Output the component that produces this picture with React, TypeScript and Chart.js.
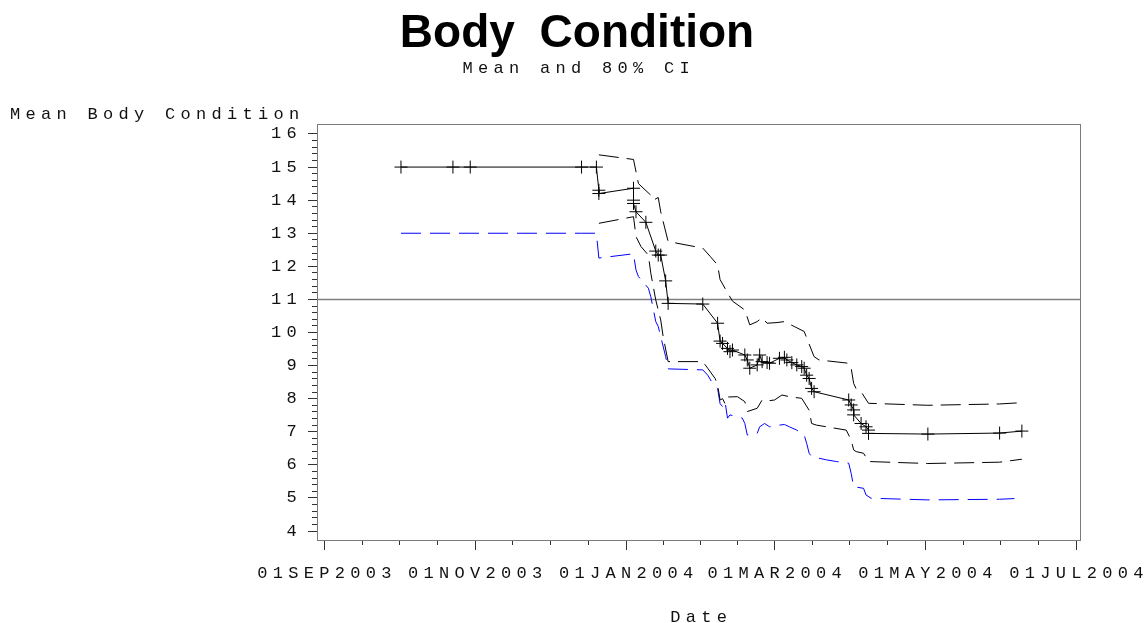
import React, { useEffect, useRef } from 'react';
import { Chart, registerables } from 'chart.js';

Chart.register(...registerables);

// ---------- data ----------
const meanDates = [
  '2003-10-02', '2003-10-23', '2003-10-30', '2003-12-14', '2003-12-20',
  '2003-12-21', '2003-12-21', '2004-01-04', '2004-01-04', '2004-01-04',
  '2004-01-05', '2004-01-09', '2004-01-13', '2004-01-14', '2004-01-15',
  '2004-01-17', '2004-01-18', '2004-02-01', '2004-02-07', '2004-02-08',
  '2004-02-09', '2004-02-11', '2004-02-12', '2004-02-13', '2004-02-18',
  '2004-02-19', '2004-02-20', '2004-02-23', '2004-02-24', '2004-02-25',
  '2004-02-27', '2004-02-28', '2004-03-03', '2004-03-05', '2004-03-06',
  '2004-03-08', '2004-03-10', '2004-03-12', '2004-03-13', '2004-03-14',
  '2004-03-15', '2004-03-16', '2004-03-17', '2004-03-31', '2004-04-01',
  '2004-04-02', '2004-04-02', '2004-04-05', '2004-04-07', '2004-04-08',
  '2004-04-08', '2004-05-02', '2004-05-31', '2004-06-09',
];
const meanValues = [
  15, 15, 15, 15, 15,
  14.3, 14.2, 14.36, 14.0, 13.9,
  13.65, 13.33, 12.46, 12.34, 12.34,
  11.56, 10.88, 10.86, 10.28, 9.74,
  9.67, 9.52, 9.42, 9.47, 9.32,
  9.17, 8.92, 9.02, 9.32, 9.12,
  9.09, 9.07, 9.22, 9.25, 9.17,
  9.09, 9.02, 8.97, 8.92, 8.71,
  8.61, 8.31, 8.21, 7.96, 7.81,
  7.66, 7.51, 7.25, 7.15, 7.05,
  6.95, 6.93, 6.96, 7.02,
];

const upperDates = [
  '2003-12-21', '2004-01-04', '2004-01-06', '2004-01-11', '2004-01-12',
  '2004-01-14', '2004-01-15', '2004-01-18', '2004-02-01', '2004-02-04',
  '2004-02-07', '2004-02-08', '2004-02-11', '2004-02-13', '2004-02-18',
  '2004-02-20', '2004-02-23', '2004-02-25', '2004-02-27', '2004-03-02',
  '2004-03-05', '2004-03-09', '2004-03-13', '2004-03-15', '2004-03-17',
  '2004-03-19', '2004-03-31', '2004-04-01', '2004-04-02', '2004-04-03',
  '2004-04-05', '2004-04-08', '2004-05-02', '2004-05-31', '2004-06-09',
];
const upperValues = [
  15.37, 15.23, 14.5, 14.15, 14.0,
  14.08, 13.65, 12.75, 12.55, 12.3,
  12.04, 11.6, 11.2, 10.95, 10.68,
  10.23, 10.33, 10.45, 10.28, 10.3,
  10.33, 10.18, 10.03, 9.65, 9.27,
  9.17, 9.07, 8.92, 8.46, 8.3,
  8.21, 7.86, 7.8, 7.84, 7.88,
];

const lowerDates = [
  '2003-12-21', '2004-01-04', '2004-01-05', '2004-01-07', '2004-01-10',
  '2004-01-11', '2004-01-13', '2004-01-15', '2004-01-16', '2004-01-18',
  '2004-02-01', '2004-02-03', '2004-02-06', '2004-02-07', '2004-02-08',
  '2004-02-09', '2004-02-10', '2004-02-11', '2004-02-15', '2004-02-18',
  '2004-02-19', '2004-02-23', '2004-02-25', '2004-02-27', '2004-03-01',
  '2004-03-04', '2004-03-07', '2004-03-12', '2004-03-15', '2004-03-16',
  '2004-03-18', '2004-03-30', '2004-04-01', '2004-04-02', '2004-04-03',
  '2004-04-06', '2004-04-08', '2004-05-02', '2004-05-31', '2004-06-09',
];
const lowerValues = [
  13.3, 13.5, 12.9, 12.6, 12.34,
  11.79, 10.98, 10.38, 9.87, 9.12,
  9.12, 8.92, 8.61, 8.41, 7.96,
  8.0, 7.85, 8.05, 8.06, 7.91,
  7.61, 7.71, 7.96, 7.93, 7.96,
  8.11, 8.06, 8.01, 7.65, 7.25,
  7.2, 7.05, 6.75, 6.45, 6.4,
  6.35, 6.1, 6.04, 6.08, 6.17,
];

const blueDates = [
  '2003-10-02', '2003-10-23', '2003-10-30', '2003-12-14', '2003-12-20',
  '2003-12-21', '2004-01-04', '2004-01-05', '2004-01-06', '2004-01-10',
  '2004-01-11', '2004-01-13', '2004-01-14', '2004-01-17', '2004-01-18',
  '2004-02-01', '2004-02-03', '2004-02-05', '2004-02-07', '2004-02-08',
  '2004-02-09', '2004-02-10', '2004-02-11', '2004-02-12', '2004-02-17',
  '2004-02-18', '2004-02-19', '2004-02-23', '2004-02-24', '2004-02-26',
  '2004-02-28', '2004-03-03', '2004-03-05', '2004-03-07', '2004-03-10',
  '2004-03-13', '2004-03-14', '2004-03-15', '2004-03-16', '2004-03-22',
  '2004-03-26', '2004-03-31', '2004-04-01', '2004-04-02', '2004-04-06',
  '2004-04-07', '2004-04-09', '2004-05-02', '2004-05-31', '2004-06-06',
];
const blueValues = [
  13.0, 13.0, 13.0, 13.0, 13.0,
  12.25, 12.38, 11.89, 11.69, 11.34,
  11.08, 10.33, 10.18, 9.27, 8.9,
  8.87, 8.71, 8.46, 8.31, 7.85,
  7.76, 7.91, 7.41, 7.51, 7.41,
  7.25, 6.9, 6.95, 7.15, 7.25,
  7.15, 7.2, 7.22, 7.15, 7.05,
  6.9, 6.65, 6.35, 6.25, 6.15,
  6.1, 6.05, 5.74, 5.34, 5.29,
  5.09, 4.99, 4.94, 4.96, 4.98,
];

const referenceValue = 11;

const xTickDates = ['2003-09-01', '2003-11-01', '2004-01-01', '2004-03-01', '2004-05-01', '2004-07-01'];
const xTickLabels = ['01SEP2003', '01NOV2003', '01JAN2004', '01MAR2004', '01MAY2004', '01JUL2004'];
const yTickValues = [4, 5, 6, 7, 8, 9, 10, 11, 12, 13, 14, 15, 16];
const yMinorStep = 0.2;

const TITLE = 'Body Condition';
const SUBTITLE = 'Mean and 80% CI';
const Y_LABEL = 'Mean Body Condition';
const X_LABEL = 'Date';

// ---------- helpers ----------
const ORIGIN = Date.UTC(2003, 8, 1);
const toDay = (s: string) => Math.round((Date.parse(s + 'T00:00:00Z') - ORIGIN) / 86400000);
const pts = (dates: string[], values: number[]) => dates.map((d, i) => ({ x: toDay(d), y: values[i] }));

const X_MIN = -2.95;
const X_MAX = 305.5;
const Y_MIN = 3.728;
const Y_MAX = 16.302;

const MONO = '"Liberation Mono", "DejaVu Sans Mono", monospace';
const MONO_SIZE = 17;
const SPACING = 5.3;
const TEXT_COLOR = '#111';

const xMajor = xTickDates.map(toDay);
const xMinor: number[] = [];
for (let i = 0; i < xMajor.length - 1; i++) {
  for (let k = 1; k < 4; k++) xMinor.push(xMajor[i] + ((xMajor[i + 1] - xMajor[i]) * k) / 4);
}
const yMinor: number[] = [];
for (let i = 0; i < yTickValues.length - 1; i++) {
  for (let v = yTickValues[i] + yMinorStep; v < yTickValues[i + 1] - 1e-6; v += yMinorStep) yMinor.push(+v.toFixed(3));
}

const sasPlugin = {
  id: 'sasText',
  beforeDraw(chart: any) {
    chart.ctx.letterSpacing = SPACING + 'px';
  },
  beforeDatasetsDraw(chart: any) {
    const { ctx, chartArea: a } = chart;
    ctx.save();
    ctx.strokeStyle = '#7a7a7a';
    ctx.lineWidth = 1;
    ctx.strokeRect(Math.round(a.left) + 0.5, Math.round(a.top) + 0.5, Math.round(a.right - a.left), Math.round(a.bottom - a.top));
    ctx.restore();
  },
  afterDraw(chart: any) {
    const ctx = chart.ctx;
    ctx.save();
    ctx.fillStyle = '#000';
    ctx.letterSpacing = '0px';
    try { ctx.wordSpacing = '12px'; } catch (e) {}
    ctx.font = 'bold 46px "Liberation Sans", Arial, sans-serif';
    ctx.textAlign = 'center';
    ctx.textBaseline = 'alphabetic';
    ctx.fillText(TITLE, 577, 47);
    try { ctx.wordSpacing = '0px'; } catch (e) {}

    ctx.fillStyle = TEXT_COLOR;
    ctx.letterSpacing = SPACING + 'px';
    ctx.font = `${MONO_SIZE}px ${MONO}`;
    ctx.textBaseline = 'middle';
    ctx.textAlign = 'center';
    ctx.fillText(SUBTITLE, 576 + SPACING / 2, 68);
    const a = chart.chartArea;
    ctx.fillText(X_LABEL, (a.left + a.right) / 2 + SPACING / 2, 617);
    ctx.textAlign = 'left';
    ctx.fillText(Y_LABEL, 10, 114);
    ctx.restore();
  },
};

export default function App() {
  const ref = useRef<HTMLCanvasElement | null>(null);
  useEffect(() => {
    if (!ref.current) return;
    const tickFont = { family: MONO, size: MONO_SIZE };
    const chart = new Chart(ref.current, {
      type: 'line',
      data: {
        datasets: [
          {
            label: 'Mean',
            data: pts(meanDates, meanValues),
            borderColor: '#000',
            borderWidth: 1,
            pointStyle: 'cross',
            pointRadius: 6.5,
            pointBorderColor: '#000',
            pointBorderWidth: 1,
            tension: 0,
          },
          {
            label: 'Upper 80% CI',
            data: pts(upperDates, upperValues),
            borderColor: '#000',
            borderWidth: 1,
            borderDash: [20, 8],
            pointRadius: 0,
            tension: 0,
          },
          {
            label: 'Lower 80% CI',
            data: pts(lowerDates, lowerValues),
            borderColor: '#000',
            borderWidth: 1,
            borderDash: [20, 8],
            pointRadius: 0,
            tension: 0,
          },
          {
            label: 'Lower bound',
            data: pts(blueDates, blueValues),
            borderColor: '#0000ff',
            borderWidth: 1,
            borderDash: [20, 9],
            pointRadius: 0,
            tension: 0,
          },
          {
            label: 'Reference',
            data: [{ x: X_MIN, y: referenceValue }, { x: X_MAX, y: referenceValue }],
            borderColor: '#808080',
            borderWidth: 1.5,
            pointRadius: 0,
            tension: 0,
          },
        ],
      },
      options: {
        responsive: false,
        animation: false,
        events: [],
        layout: { padding: { top: 124, right: 64, bottom: 0, left: 0 } },
        plugins: { legend: { display: false }, tooltip: { enabled: false }, title: { display: false } },
        scales: {
          x: {
            type: 'linear',
            position: 'bottom',
            weight: 1,
            min: X_MIN,
            max: X_MAX,
            afterBuildTicks: (s: any) => { s.ticks = xMajor.map((v) => ({ value: v })); },
            afterFit: (s: any) => { s.height = 83; s.paddingLeft = 0; s.paddingRight = 0; },
            ticks: {
              autoSkip: false,
              maxRotation: 0,
              minRotation: 0,
              padding: 13,
              labelOffset: SPACING / 2,
              font: tickFont,
              color: TEXT_COLOR,
              callback: (_v: any, i: number) => xTickLabels[i],
            },
            grid: { drawOnChartArea: false, drawTicks: true, tickLength: 10, color: '#333', lineWidth: 1 },
            border: { display: false },
          },
          xm: {
            type: 'linear',
            position: 'bottom',
            weight: 0,
            min: X_MIN,
            max: X_MAX,
            afterBuildTicks: (s: any) => { s.ticks = xMinor.map((v) => ({ value: v })); },
            afterFit: (s: any) => { s.height = 0; s.paddingLeft = 0; s.paddingRight = 0; },
            ticks: { display: false, autoSkip: false },
            grid: { drawOnChartArea: false, drawTicks: true, tickLength: 5, color: '#333', lineWidth: 1 },
            border: { display: false },
          },
          y: {
            type: 'linear',
            position: 'left',
            weight: 1,
            min: Y_MIN,
            max: Y_MAX,
            afterBuildTicks: (s: any) => { s.ticks = yTickValues.map((v) => ({ value: v })); },
            afterFit: (s: any) => { s.width = 317; s.paddingTop = 0; s.paddingBottom = 0; },
            ticks: {
              autoSkip: false,
              padding: 6,
              font: tickFont,
              color: TEXT_COLOR,
              callback: (v: any) => String(v),
            },
            grid: { drawOnChartArea: false, drawTicks: true, tickLength: 9, color: '#333', lineWidth: 1 },
            border: { display: false },
          },
          ym: {
            type: 'linear',
            position: 'left',
            weight: 0,
            min: Y_MIN,
            max: Y_MAX,
            afterBuildTicks: (s: any) => { s.ticks = yMinor.map((v) => ({ value: v })); },
            afterFit: (s: any) => { s.width = 0; s.paddingTop = 0; s.paddingBottom = 0; },
            ticks: { display: false, autoSkip: false },
            grid: { drawOnChartArea: false, drawTicks: true, tickLength: 5, color: '#333', lineWidth: 1 },
            border: { display: false },
          },
        },
      } as any,
      plugins: [sasPlugin as any],
    });
    return () => chart.destroy();
  }, []);

  return (
    <div style={{ position: 'fixed', left: 0, top: 0, width: 1144, height: 623, background: '#fff' }}>
      <canvas ref={ref} width={1144} height={623} style={{ display: 'block', width: 1144, height: 623 }} />
    </div>
  );
}
